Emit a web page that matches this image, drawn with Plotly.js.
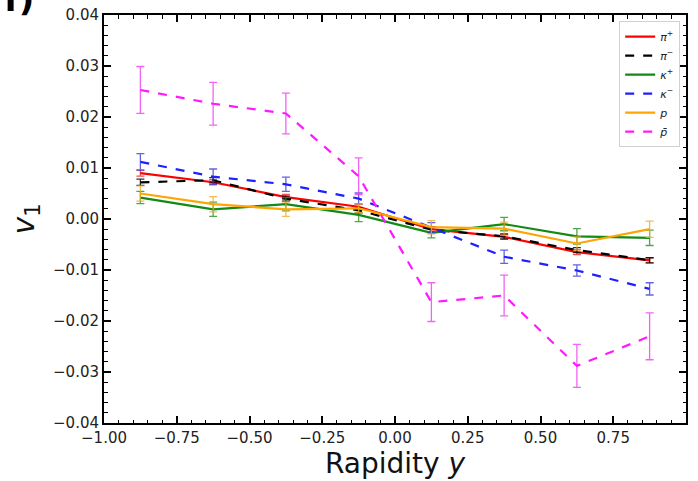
<!DOCTYPE html>
<html>
<head>
<meta charset="utf-8">
<script src="https://cdn.plot.ly/plotly-3.0.1.min.js"></script>
<style>html,body{margin:0;padding:0;background:#fff;}#chart{width:698px;height:481px;}</style>
</head>
<body>
<div id="chart"></div>
<script>
const rapidity = [-0.875, -0.625, -0.375, -0.125, 0.125, 0.375, 0.625, 0.875];

const piPlus      = [0.0090, 0.0072, 0.0043, 0.0024, -0.0020, -0.0035, -0.0065, -0.0081];
const piPlusErr   = [0.0006, 0.0005, 0.0005, 0.0005, 0.0005, 0.0005, 0.0005, 0.0005];
const piMinus     = [0.0072, 0.0076, 0.0040, 0.0017, -0.0021, -0.0034, -0.0061, -0.0081];
const piMinusErr  = [0.0006, 0.0005, 0.0005, 0.0005, 0.0005, 0.0005, 0.0005, 0.0005];
const kPlus       = [0.0042, 0.0019, 0.0029, 0.0008, -0.0027, -0.0010, -0.0034, -0.0037];
const kPlusErr    = [0.0012, 0.0014, 0.0013, 0.0013, 0.0010, 0.0013, 0.0015, 0.0015];
const kMinus      = [0.0112, 0.0083, 0.0068, 0.0040, -0.0017, -0.0074, -0.0101, -0.0137];
const kMinusErr   = [0.0016, 0.0015, 0.0014, 0.0011, 0.0010, 0.0013, 0.0011, 0.0012];
const proton      = [0.0050, 0.0029, 0.0019, 0.0021, -0.0016, -0.0019, -0.0048, -0.0020];
const protonErr   = [0.0015, 0.0015, 0.0014, 0.0008, 0.0013, 0.0013, 0.0013, 0.0016];
const pbar        = [0.0253, 0.0226, 0.0207, 0.0084, -0.0163, -0.0150, -0.0288, -0.0230];
const pbarErr     = [0.0046, 0.0042, 0.0040, 0.0036, 0.0038, 0.0040, 0.0042, 0.0046];

const names  = ['<i>π</i><sup>+</sup>', '<i>π</i><sup>−</sup>', '<i>κ</i><sup>+</sup>', '<i>κ</i><sup>−</sup>', '<i>p</i>', '<i>p\u0304</i>'];
const colors = ['#ff0000', '#000000', '#138a13', '#1f1fff', '#ffa500', '#ff19ff'];
const errColors = ['rgba(230,40,40,0.8)', 'rgba(0,0,0,0.8)', 'rgba(40,140,40,0.8)', 'rgba(60,60,220,0.8)', 'rgba(240,170,40,0.8)', 'rgba(240,60,240,0.8)'];
const dashes = ['solid', 'dash', 'solid', 'dash', 'solid', 'dash'];
const series = [piPlus, piMinus, kPlus, kMinus, proton, pbar];
const errs   = [piPlusErr, piMinusErr, kPlusErr, kMinusErr, protonErr, pbarErr];

const traces = series.map((ys, i) => ({
  x: rapidity,
  y: ys,
  type: 'scatter',
  mode: 'lines',
  name: names[i],
  line: {color: colors[i], width: 2.2, dash: dashes[i]},
  error_y: {type: 'data', array: errs[i], visible: true, color: errColors[i], thickness: 1.3, width: 4}
}));

const axisCommon = {
  showgrid: false,
  zeroline: false,
  showline: true,
  linecolor: '#000',
  linewidth: 2,
  mirror: 'allticks',
  ticks: 'inside',
  ticklen: 7,
  tickwidth: 1.5,
  tickcolor: '#000',
  tickfont: {family: 'DejaVu Sans', size: 15, color: '#222'}
};

const layout = {
  width: 698,
  height: 481,
  margin: {l: 104, r: 12, t: 15, b: 58},
  paper_bgcolor: '#fff',
  plot_bgcolor: '#fff',
  showlegend: true,
  xaxis: Object.assign({}, axisCommon, {
    range: [-1, 1],
    dtick: 0.25,
    tick0: -1,
    tickformat: '.2f',
    minor: {dtick: 0.05, ticks: 'inside', ticklen: 3.5, tickwidth: 1.2, tickcolor: '#000'},
    title: {text: 'Rapidity <i>y</i>', font: {family: 'DejaVu Sans', size: 28, color: '#111'}, standoff: 3}
  }),
  yaxis: Object.assign({}, axisCommon, {
    range: [-0.04, 0.04],
    dtick: 0.01,
    tick0: 0,
    tickformat: '.2f',
    minor: {dtick: 0.002, ticks: 'inside', ticklen: 3.5, tickwidth: 1.2, tickcolor: '#000'},
    title: {text: '<i>v</i><sub>1</sub>', font: {family: 'DejaVu Sans', size: 30, color: '#111'}, standoff: 10}
  }),
  legend: {
    x: 0.99, y: 0.985, xanchor: 'right', yanchor: 'top',
    bgcolor: '#fff',
    bordercolor: '#d0d0d0',
    borderwidth: 1,
    font: {family: 'DejaVu Sans', size: 11, color: '#222'},
    tracegroupgap: 0,
    itemwidth: 30
  },
  annotations: [{
    xref: 'paper', yref: 'paper',
    x: -0.175, y: 1.0, xanchor: 'left', yanchor: 'bottom',
    text: '<b>f)</b>', showarrow: false,
    yshift: -6,
    font: {family: 'DejaVu Sans', size: 34, color: '#000'}
  }]
};

Plotly.newPlot('chart', traces, layout, {displayModeBar: false});
</script>
</body>
</html>
